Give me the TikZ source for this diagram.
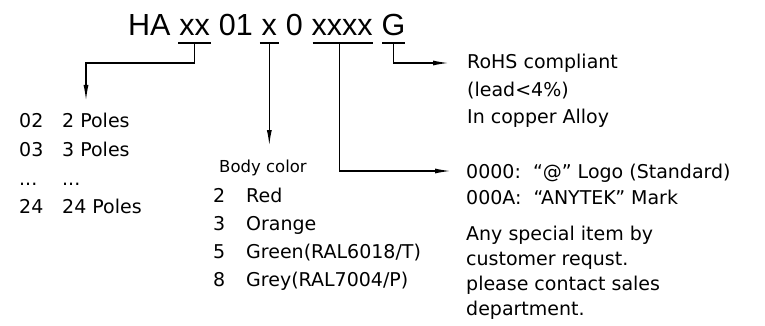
\documentclass[tikz,border=0pt]{standalone}
\usepackage{fontspec}
\setmainfont{DejaVu Sans}
\newfontfamily\titlefont{Liberation Sans}
\usetikzlibrary{arrows.meta,calc}
\begin{document}
\begin{tikzpicture}[x=1pt,y=-1pt,
  lbl/.style={anchor=base west, inner sep=0pt, font=\fontsize{19}{22}\selectfont},
  sml/.style={anchor=base west, inner sep=0pt, font=\fontsize{16.5}{20}\selectfont},
  ttl/.style={anchor=base west, inner sep=0pt, font=\titlefont\fontsize{30.5}{34}\selectfont},
  ln/.style={line width=1.4pt},
  arr/.style={ln, -{Latex[length=16pt,width=5pt]}}]
\useasboundingbox (0,0) rectangle (765,326);
% title, set piece by piece with word spaces between
\def\sp{8.5pt}
\node[ttl] (ha) at (128,36) {HA};
\node[ttl] (xx) at ([xshift=\sp]ha.base east) {xx};
\node[ttl] (n01) at ([xshift=\sp]xx.base east) {01};
\node[ttl] (x1) at ([xshift=\sp]n01.base east) {x};
\node[ttl] (n0) at ([xshift=\sp]x1.base east) {0};
\node[ttl] (x4) at ([xshift=\sp]n0.base east) {xxxx};
\node[ttl] (g) at ([xshift=\sp]x4.base east) {G};
% underlines
\draw[ln] ($(xx.base west)+(-1,7)$) -- ($(xx.base east)+(1,7)$);
\draw[ln] ($(x1.base west)+(-1.5,7)$) -- ($(x1.base east)+(1.5,7)$);
\draw[ln] ($(x4.base west)+(1,7)$) -- ($(x4.base east)+(0,7)$);
\draw[ln] ($(g.base west)+(1,7)$) -- ($(g.base east)+(-1,7)$);
\coordinate (xxu) at ($(xx.base)+(0,7)$);
\coordinate (x1u) at ($(x1.base)+(0,7)$);
\coordinate (x4u) at ($(x4.base)+(-3,7)$);
\coordinate (gu) at ($(g.base)+(0,7)$);
% arrow targets
\coordinate (ptip) at (86,101);
\coordinate (ctip) at (x1u |- 0,146);
\coordinate (mtip) at (451,171);
\coordinate (rtip) at (449,63);
% connectors
\draw[arr] (xxu) -- ++(0,20) -| (ptip);
\draw[arr] (x1u) -- (ctip);
\draw[arr] (x4u) -- ++(0,128) -- (mtip);
\draw[arr] (gu) -- ++(0,20) -- (rtip);
% poles list
\node[lbl] (p1a) at (19,128) {02};
\node[lbl] (p1b) at (62,128) {2 Poles};
\node[lbl] (p2a) at (19,157) {03};
\node[lbl] (p2b) at (62,157) {3 Poles};
\node[lbl] (p3a) at (19,185) {...};
\node[lbl] (p3b) at (62,185) {...};
\node[lbl] (p4a) at (19,213) {24};
\node[lbl] (p4b) at (62,213) {24 Poles};
% body color
\node[sml] (bc) at (219,172) {Body color};
\node[lbl] (c1a) at (213,202) {2};
\node[lbl] (c1b) at (246,202) {Red};
\node[lbl] (c2a) at (213,230) {3};
\node[lbl] (c2b) at (246,230) {Orange};
\node[lbl] (c3a) at (213,258) {5};
\node[lbl] (c3b) at (246,258) {Green(RAL6018/T)};
\node[lbl] (c4a) at (213,286) {8};
\node[lbl] (c4b) at (246,286) {Grey(RAL7004/P)};
% RoHS
\node[lbl] (r1) at (467,69) {RoHS compliant};
\node[lbl] (r2) at (467,97) {(lead<4\%)};
\node[lbl] (r3) at (467,124) {In copper Alloy};
% marks
\node[lbl] (m1) at (466,178) {0000:\ \ “@” Logo (Standard)};
\node[lbl] (m2) at (466,204) {000A:\ \ “ANYTEK” Mark};
\node[lbl] (m3) at (466,240) {Any special item by};
\node[lbl] (m4) at (466,265) {customer requst.};
\node[lbl] (m5) at (466,290) {please contact sales};
\node[lbl] (m6) at (466,315) {department.};
\end{tikzpicture}
\end{document}
